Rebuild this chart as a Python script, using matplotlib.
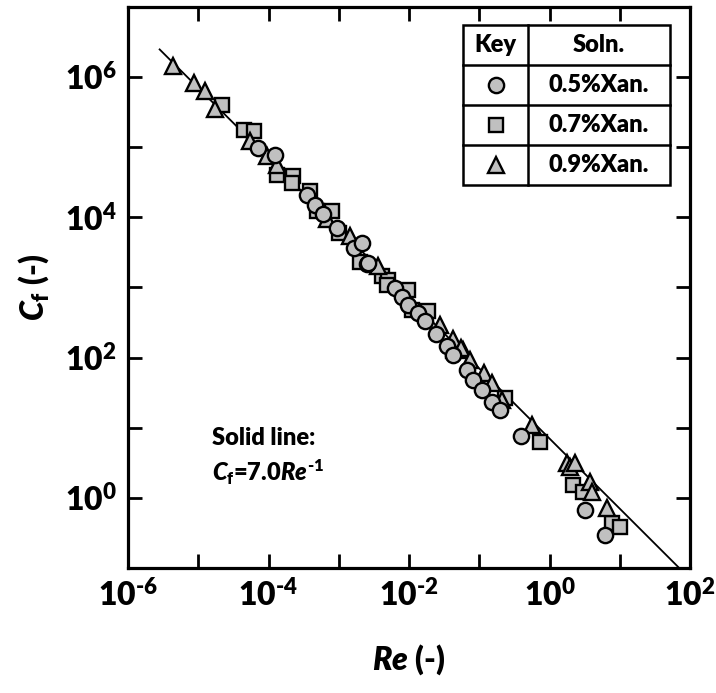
import matplotlib
matplotlib.use("Agg")
import matplotlib.pyplot as plt
import numpy as np

plt.rcParams['font.family'] = 'Lato'
plt.rcParams['font.weight'] = 'heavy'
plt.rcParams['axes.labelweight'] = 'heavy'
plt.rcParams['mathtext.fontset'] = 'custom'
plt.rcParams['mathtext.rm'] = 'Lato:heavy'
plt.rcParams['mathtext.it'] = 'Lato:italic:heavy'
plt.rcParams['mathtext.bf'] = 'Lato:heavy'

# 0.5 % xanthan
re_05 = [7.16e-5, 1.23e-4, 3.50e-4, 4.59e-4, 6.03e-4, 9.33e-4, 1.62e-3, 2.14e-3,
         2.51e-3, 2.63e-3, 6.31e-3, 7.94e-3, 9.77e-3, 1.35e-2, 1.70e-2, 2.45e-2,
         3.47e-2, 4.27e-2, 6.61e-2, 8.22e-2, 0.108, 0.151, 0.197, 0.398, 3.20, 6.17]
cf_05 = [9.77e4, 7.87e4, 2.11e4, 1.51e4, 1.10e4, 7.08e3, 3.63e3, 4.37e3,
         2.14e3, 2.24e3, 977, 741, 569, 437, 331, 214,
         145, 110, 67.6, 47.9, 34.7, 23.4, 18.0, 7.50, 0.673, 0.295]

# 0.7 % xanthan
re_07 = [2.16e-5, 4.52e-5, 6.28e-5, 1.31e-4, 2.25e-4, 2.14e-4, 3.89e-4, 4.90e-4,
         7.94e-4, 1.0e-3, 2.0e-3, 4.07e-3, 5.07e-3, 4.79e-3, 9.77e-3, 1.10e-2,
         1.86e-2, 4.27e-2, 0.234, 0.733, 2.19, 3.02, 7.67, 10.0]
cf_07 = [3.98e5, 1.79e5, 1.70e5, 4.07e4, 3.85e4, 3.09e4, 2.34e4, 1.23e4,
         1.23e4, 6.03e3, 2.34e3, 1.45e3, 1.29e3, 1.10e3, 933, 479,
         457, 123, 26.3, 6.31, 1.53, 1.23, 0.437, 0.389]

# 0.9 % xanthan
re_09 = [4.33e-6, 8.79e-6, 1.25e-5, 1.74e-5, 5.46e-5, 9.42e-5, 1.31e-4, 6.76e-4,
         1.45e-3, 3.63e-3, 2.75e-2, 4.27e-2, 5.89e-2, 5.40e-2, 7.41e-2, 0.115,
         0.151, 0.209, 0.562, 1.75, 1.95, 2.31, 3.77, 3.98, 6.52]
cf_09 = [1.43e6, 8.30e5, 6.31e5, 3.47e5, 1.22e5, 7.41e4, 5.50e4, 9.33e3,
         5.37e3, 2.0e3, 295, 182, 129, 138, 93.3, 60.3,
         43.7, 25.1, 11.0, 3.13, 2.79, 3.13, 1.71, 1.23, 0.711]

fit_coef = 7.0
series_labels = ['0.5%Xan.', '0.7%Xan.', '0.9%Xan.']
x_ticks = [10.0 ** k for k in range(-6, 3)]
y_ticks = [10.0 ** k for k in range(-1, 8)]


def decade_labels(vals):
    out = []
    for v in vals:
        e = round(np.log10(v))
        out.append(r'$10^{\text{%d}}$' % e if e % 2 == 0 else '')
    return out


fig = plt.figure(figsize=(7.16, 6.93), dpi=100)
ax = fig.add_axes([0.1788, 0.1804, 0.785, 0.8095])

re_fit = np.logspace(-5.55, 2.2, 200)
ax.plot(re_fit, fit_coef / re_fit, color='black', lw=1.3, zorder=2)

face = '#c0c0c0'
mk = dict(linestyle='none', markerfacecolor=face, markeredgecolor='black',
          markeredgewidth=1.7, zorder=3)
ax.plot(re_07, cf_07, marker='s', markersize=10, **mk)
ax.plot(re_09, cf_09, marker='^', markersize=11.5, **mk)
ax.plot(re_05, cf_05, marker='o', markersize=11, **mk)

ax.set_xscale('log')
ax.set_yscale('log')
ax.set_xlim(1e-6, 1e2)
ax.set_ylim(1e-1, 1e7)

ax.set_xticks(x_ticks)
ax.set_xticklabels(decade_labels(x_ticks))
ax.set_yticks(y_ticks)
ax.set_yticklabels(decade_labels(y_ticks))
ax.minorticks_off()
ax.tick_params(which='major', direction='in', length=10, width=2,
               top=True, right=True, labelsize=23, pad=8)
for s in ax.spines.values():
    s.set_linewidth(2.3)

ax.set_xlabel(r'$\mathit{Re}$ (-)', fontsize=23, labelpad=22)
ax.set_ylabel(r'$\mathit{C}_\mathrm{f}$ (-)', fontsize=23, labelpad=10)

ax.text(0.149, 0.232, 'Solid line:', transform=ax.transAxes, fontsize=17,
        ha='left', va='center')
ax.text(0.149, 0.171, r'$\mathit{C}_\mathrm{f}$=7.0$\mathit{Re}^{\text{-1}}$',
        transform=ax.transAxes, fontsize=17, ha='left', va='center')

# key table in the upper right corner
tl, tr, tt, tb = 0.596, 0.964, 0.968, 0.682
col = 0.712
rows = np.linspace(tt, tb, 5)
lw = 1.8
ax.add_patch(plt.Rectangle((tl, tb), tr - tl, tt - tb, transform=ax.transAxes,
                           facecolor='white', edgecolor='black', lw=lw, zorder=5))
ax.plot([col, col], [tb, tt], color='black', lw=lw, transform=ax.transAxes, zorder=6)
for r in rows[1:-1]:
    ax.plot([tl, tr], [r, r], color='black', lw=lw, transform=ax.transAxes, zorder=6)
cx_key = (tl + col) / 2
cx_sol = (col + tr) / 2
ax.text(cx_key, (rows[0] + rows[1]) / 2, 'Key', transform=ax.transAxes,
        fontsize=17, ha='center', va='center', zorder=7)
ax.text(cx_sol, (rows[0] + rows[1]) / 2, 'Soln.', transform=ax.transAxes,
        fontsize=17, ha='center', va='center', zorder=7)
for i, (m, ms, lab) in enumerate(zip(['o', 's', '^'], [11, 10, 11.5], series_labels)):
    yc = (rows[i + 1] + rows[i + 2]) / 2
    ax.plot([cx_key], [yc], marker=m, markersize=ms, transform=ax.transAxes,
            clip_on=False, **{**mk, 'zorder': 7})
    ax.text(cx_sol, yc, lab, transform=ax.transAxes, fontsize=17,
            ha='center', va='center', zorder=7)

fig.savefig('out.png', dpi=100)
